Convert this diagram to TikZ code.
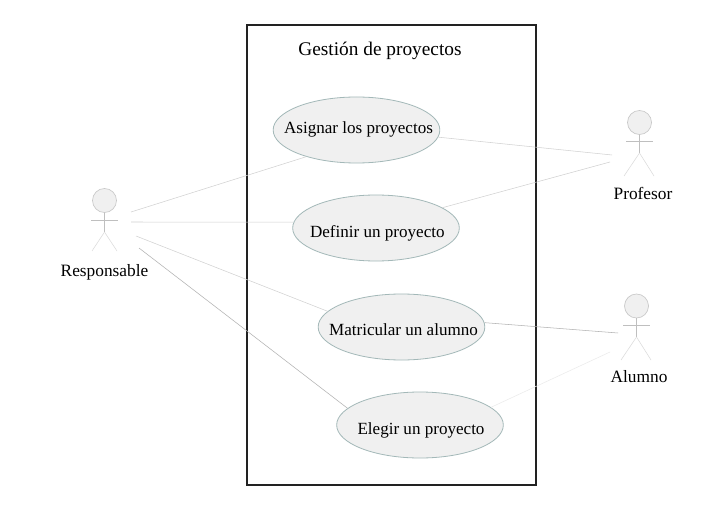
\documentclass[tikz,border=0pt]{standalone}
\usepackage{fontspec}
\setmainfont{Liberation Serif}
\usetikzlibrary{shapes.geometric}
\definecolor{fillgray}{HTML}{F0F0F0}
\definecolor{edgeteal}{HTML}{A3B8B8}
\definecolor{framegray}{HTML}{222222}
\newcommand{\uctext}[3]{\smash{\makebox[0pt][c]{\hspace*{#1}\raisebox{#2}{#3}}}}
\tikzset{
  usecase/.style={ellipse,draw=edgeteal,fill=fillgray,line width=0.6pt,minimum width=125pt,minimum height=49.5pt,inner sep=0pt,font=\fontsize{12.8}{15}\selectfont,text=black},
  head/.style={circle,draw=black!22,fill=fillgray,line width=0.5pt,minimum size=18pt,inner sep=0pt},
  limb/.style={draw=black!25,line width=0.4pt},
  leg/.style={draw=black!14,line width=0.4pt},
  assoc/.style={draw=black!18,line width=0.4pt},
  assocdark/.style={draw=black!30,line width=0.4pt},
  assocpale/.style={draw=black!8,line width=0.4pt},
  lbl/.style={font=\fontsize{13}{15}\selectfont,text=black,inner sep=0pt},
  x=0.75pt,y=-0.75pt
}
\begin{document}
\begin{tikzpicture}
\useasboundingbox[fill=white] (0,0) rectangle (705,516);
\node[draw=framegray,line width=0.8pt,minimum width=216.75pt,minimum height=345pt,inner sep=0pt] (frame) at (391.5,255) {};
\node[lbl,font=\fontsize{14.5}{16}\selectfont] (title) at (380,51) {Gestión de proyectos};
\node[usecase] (asignar) at (356.5,130) {\uctext{3pt}{-2.8pt}{Asignar los proyectos}};
\node[usecase] (definir) at (376,228) {\uctext{2pt}{-6.8pt}{Definir un proyecto}};
\node[usecase] (matricular) at (401.5,327) {\uctext{3pt}{-6.3pt}{Matricular un alumno}};
\node[usecase] (elegir) at (420,425) {\uctext{1.5pt}{-7pt}{Elegir un proyecto}};
% Responsable
\node[head] (rhead) at (104.5,200.5) {};
\coordinate (rneck) at (104.5,232);
\coordinate (rarml) at (91,220);
\coordinate (rarmr) at (118,220);
\coordinate (rlegl) at (92,251);
\coordinate (rlegr) at (117,251);
\draw[limb] (rhead) -- (rneck);
\draw[limb] (rarml) -- (rarmr);
\draw[leg] (rneck) -- (rlegl);
\draw[leg] (rneck) -- (rlegr);
\node[lbl] (rlabel) at (104.5,272) {Responsable};
% Profesor
\node[head] (phead) at (639.5,122.5) {};
\coordinate (pneck) at (639.5,153);
\coordinate (parml) at (626,141);
\coordinate (parmr) at (653,141);
\coordinate (plegl) at (624,176);
\coordinate (plegr) at (654,176);
\draw[limb] (phead) -- (pneck);
\draw[limb] (parml) -- (parmr);
\draw[leg] (pneck) -- (plegl);
\draw[leg] (pneck) -- (plegr);
\node[lbl] (plabel) at (643,193) {Profesor};
% Alumno
\node[head] (ahead) at (636.5,306) {};
\coordinate (aneck) at (636.5,337);
\coordinate (aarml) at (623,325);
\coordinate (aarmr) at (650,325);
\coordinate (alegl) at (621,360);
\coordinate (alegr) at (651,360);
\draw[limb] (ahead) -- (aneck);
\draw[limb] (aarml) -- (aarmr);
\draw[leg] (aneck) -- (alegl);
\draw[leg] (aneck) -- (alegr);
\node[lbl] (alabel) at (639,377) {Alumno};
% connector ends
\coordinate (r1) at (131,212);
\coordinate (r2) at (131,222);
\coordinate (r3) at (136,236);
\coordinate (r4) at (139,248);
\coordinate (p1) at (612,155);
\coordinate (p2) at (610,162);
\coordinate (a1) at (618,333);
\coordinate (a2) at (610,352);
\draw[assoc] (r1) -- (asignar.208);
\draw[assoc] (r2) -- (definir.176);
\draw[assoc] (r3) -- (matricular.168);
\draw[assocdark] (r4) -- (elegir.167);
\draw[assoc] (asignar.355) -- (p1);
\draw[assoc] (definir.17) -- (p2);
\draw[assocdark] (matricular.3.5) -- (a1);
\draw[assocpale] (elegir.14) -- (a2);
\end{tikzpicture}
\end{document}
